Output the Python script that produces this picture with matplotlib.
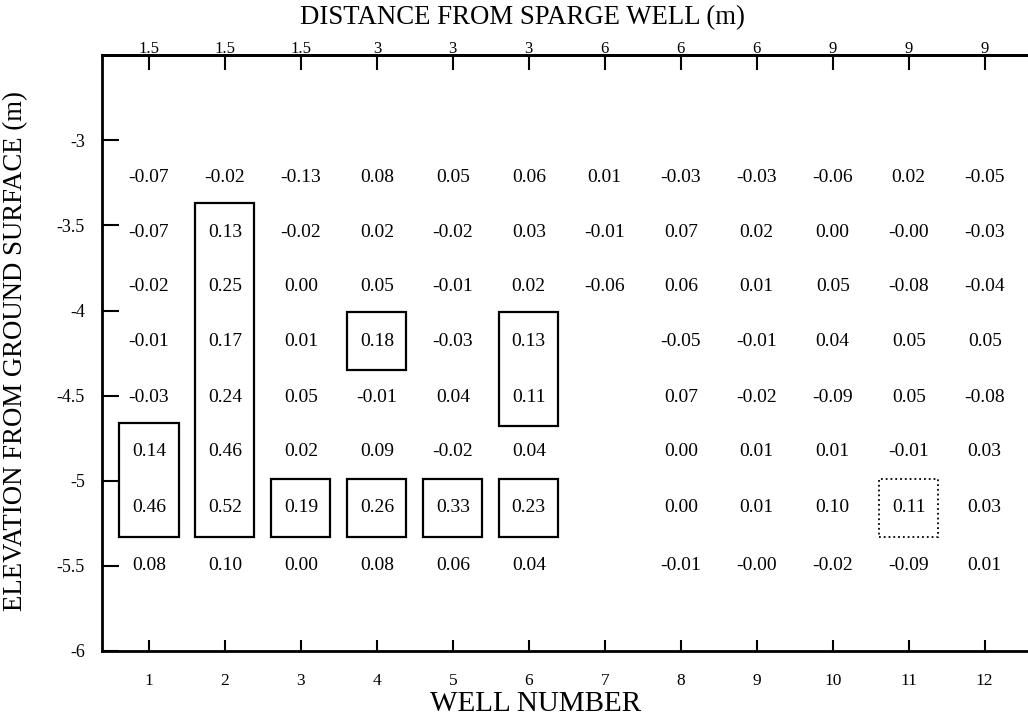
import numpy as np
import matplotlib.pyplot as plt
from matplotlib.patches import Rectangle

plt.rcParams['font.family'] = ['Liberation Serif', 'DejaVu Serif']
plt.rcParams['axes.unicode_minus'] = False

# Well numbers and distance from sparge well (m)
wells = list(range(1, 13))
distance = ['1.5', '1.5', '1.5', '3', '3', '3', '6', '6', '6', '9', '9', '9']

# Elevation of each sampling depth (m)
elevation = [-3.22, -3.54, -3.86, -4.18, -4.51, -4.83, -5.16, -5.5]

# Values per well, top to bottom (None = no sample)
w1 = [-0.07, -0.07, -0.02, -0.01, -0.03, 0.14, 0.46, 0.08]
w2 = [-0.02, 0.13, 0.25, 0.17, 0.24, 0.46, 0.52, 0.10]
w3 = [-0.13, -0.02, 0.00, 0.01, 0.05, 0.02, 0.19, 0.00]
w4 = [0.08, 0.02, 0.05, 0.18, -0.01, 0.09, 0.26, 0.08]
w5 = [0.05, -0.02, -0.01, -0.03, 0.04, -0.02, 0.33, 0.06]
w6 = [0.06, 0.03, 0.02, 0.13, 0.11, 0.04, 0.23, 0.04]
w7 = [0.01, -0.01, -0.06, None, None, None, None, None]
w8 = [-0.03, 0.07, 0.06, -0.05, 0.07, 0.00, 0.00, -0.01]
w9 = [-0.03, 0.02, 0.01, -0.01, -0.02, 0.01, 0.01, -0.0]
w10 = [-0.06, 0.00, 0.05, 0.04, -0.09, 0.01, 0.10, -0.02]
w11 = [0.02, -0.0, -0.08, 0.05, 0.05, -0.01, 0.11, -0.09]
w12 = [-0.05, -0.03, -0.04, 0.05, -0.08, 0.03, 0.03, 0.01]
values = [w1, w2, w3, w4, w5, w6, w7, w8, w9, w10, w11, w12]

# Boxed groups: (well, first row index, last row index, dotted?)
boxes = [(1, 5, 6, False), (2, 1, 6, False), (3, 6, 6, False),
         (4, 3, 3, False), (4, 6, 6, False), (5, 6, 6, False),
         (6, 3, 4, False), (6, 6, 6, False), (11, 6, 6, True)]

fig, ax = plt.subplots(figsize=(10.28, 7.19), dpi=100)
fig.subplots_adjust(left=0.099, right=1.0, bottom=0.095, top=0.923)

for w, col in zip(wells, values):
    for e, v in zip(elevation, col):
        if v is None:
            continue
        ax.text(w, e, f"{v:.2f}", ha='center', va='center', fontsize=14)

half_w = 0.39
pad = 0.17
for w, r0, r1, dotted in boxes:
    top = elevation[r0] + pad
    bot = elevation[r1] - pad
    ax.add_patch(Rectangle((w - half_w, bot), 2 * half_w, top - bot,
                           fill=False, edgecolor='black',
                           linewidth=1.3 if dotted else 1.6,
                           linestyle=':' if dotted else '-'))

ax.set_xlim(0.38, 12.57)
ax.set_ylim(-6, -2.5)

ax.set_xticks(wells)
ax.set_xticklabels([str(w) for w in wells], fontsize=12.5)
yt = [-3, -3.5, -4, -4.5, -5, -5.5, -6]
ax.set_yticks(yt)
ax.set_yticklabels(['-3', '-3.5', '-4', '-4.5', '-5', '-5.5', '-6'], fontsize=13)
ax.tick_params(axis='x', direction='in', length=8, width=1.5, pad=16)
ax.tick_params(axis='y', direction='in', length=12, width=1.5, pad=12)

ax.spines['right'].set_visible(False)
for s in ['left', 'bottom', 'top']:
    ax.spines[s].set_linewidth(2)

ax2 = ax.twiny()
ax2.set_xlim(ax.get_xlim())
ax2.set_xticks(wells)
ax2.set_xticklabels(distance, fontsize=12)
ax2.tick_params(axis='x', direction='in', length=11, width=1.5, pad=-1)
ax2.spines['right'].set_visible(False)
ax2.spines['top'].set_linewidth(2)

fig.text(522 / 1028, 1 - 18 / 719, 'DISTANCE FROM SPARGE WELL (m)',
         fontsize=19.3, ha='center', va='center')
fig.text(536 / 1028, 1 - 704 / 719, 'WELL NUMBER',
         fontsize=21, ha='center', va='center')
fig.text(16 / 1028, 1 - 351 / 719, 'ELEVATION FROM GROUND SURFACE (m)',
         fontsize=19.3, ha='center', va='center', rotation=90)

fig.savefig('out.png', dpi=100)
